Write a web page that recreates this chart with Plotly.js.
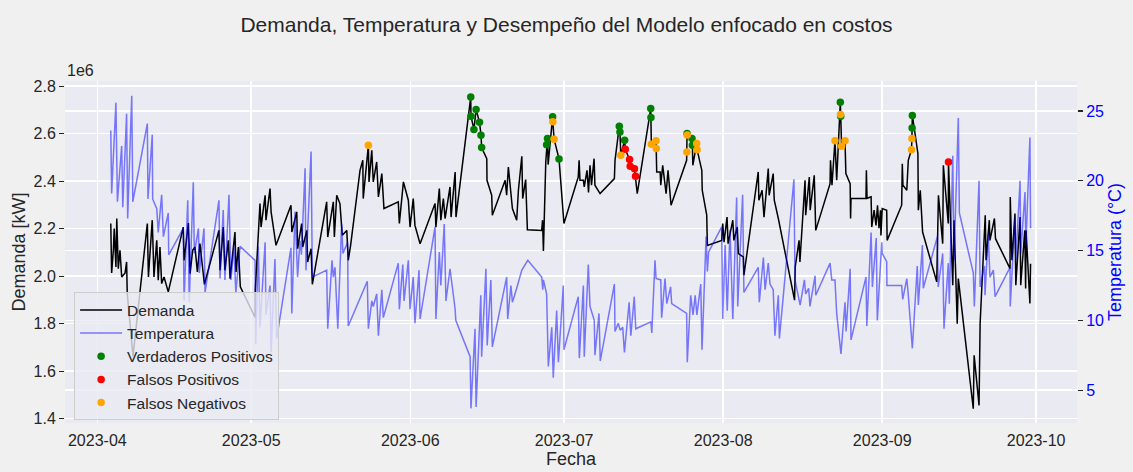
<!DOCTYPE html>
<html>
<head>
<meta charset="utf-8">
<script src="https://cdn.plot.ly/plotly-3.0.1.min.js"></script>
<style>html,body{margin:0;padding:0;background:#f0f0f0;}#chart{width:1133px;height:472px;}</style>
</head>
<body>
<div id="chart"></div>
<script>
// ---- Demanda (kW, en unidades de 1e6) ----
const demandaFecha = [
"2023-04-03 15:00","2023-04-03 19:00","2023-04-04 03:00","2023-04-04 07:00","2023-04-04 15:00","2023-04-04 19:00",
"2023-04-05 02:00","2023-04-05 10:00","2023-04-05 18:00","2023-04-06 10:00","2023-04-06 17:00","2023-04-06 20:00",
"2023-04-07 23:00","2023-04-09 08:00","2023-04-10 07:00","2023-04-10 18:00","2023-04-10 23:00","2023-04-11 17:00",
"2023-04-12 01:00","2023-04-12 14:00","2023-04-12 21:00","2023-04-13 05:00","2023-04-13 13:00","2023-04-14 00:00",
"2023-04-14 20:00","2023-04-17 18:00","2023-04-17 22:00","2023-04-18 18:00","2023-04-19 02:00","2023-04-19 14:00",
"2023-04-20 01:00","2023-04-20 12:00","2023-04-21 00:00","2023-04-21 21:00","2023-04-24 17:00","2023-04-24 22:00",
"2023-04-25 13:00","2023-04-25 21:00","2023-04-26 13:00","2023-04-26 21:00","2023-04-27 20:00","2023-04-28 01:00",
"2023-04-28 12:00","2023-04-28 21:00","2023-05-01 18:00","2023-05-01 19:00","2023-05-02 17:00","2023-05-02 22:00",
"2023-05-03 17:00","2023-05-03 21:00","2023-05-04 16:00","2023-05-04 21:00","2023-05-05 20:00","2023-05-08 18:00",
"2023-05-08 22:00","2023-05-09 21:00","2023-05-10 01:00","2023-05-10 20:00","2023-05-11 01:00","2023-05-11 20:00",
"2023-05-12 00:00","2023-05-12 16:00","2023-05-12 22:00","2023-05-15 17:00","2023-05-15 22:00","2023-05-17 00:00",
"2023-05-17 05:00","2023-05-17 16:00","2023-05-18 07:00","2023-05-18 18:00","2023-05-19 15:00","2023-05-19 22:00",
"2023-05-20 09:00","2023-05-22 05:00","2023-05-22 18:00","2023-05-22 20:00","2023-05-23 20:00","2023-05-23 23:00",
"2023-05-24 12:00","2023-05-24 19:00","2023-05-25 11:00","2023-05-25 19:00","2023-05-26 11:00","2023-05-26 21:00",
"2023-05-29 16:00","2023-05-29 21:00","2023-05-30 16:00","2023-05-31 15:00","2023-05-31 23:00","2023-06-01 14:00",
"2023-06-01 22:00","2023-06-02 22:00","2023-06-05 20:00","2023-06-06 00:00","2023-06-06 16:00","2023-06-06 23:00",
"2023-06-07 11:00","2023-06-07 19:00","2023-06-08 18:00","2023-06-08 23:00","2023-06-09 18:00","2023-06-09 22:00",
"2023-06-12 19:00","2023-06-12 20:00","2023-06-13 10:00","2023-06-13 20:00","2023-06-14 12:00","2023-06-14 19:00",
"2023-06-14 22:00","2023-06-15 22:00","2023-06-15 23:00","2023-06-16 21:00","2023-06-17 00:00","2023-06-19 12:00",
"2023-06-19 19:00","2023-06-20 03:00","2023-06-20 22:00","2023-06-21 18:00","2023-06-22 02:00","2023-06-22 18:00",
"2023-06-22 22:00","2023-06-23 12:00","2023-06-23 20:00","2023-06-26 15:00","2023-06-26 19:00","2023-06-26 23:00",
"2023-06-27 10:00","2023-06-27 14:00","2023-06-27 18:00","2023-06-27 21:00","2023-06-28 18:00","2023-06-28 19:00",
"2023-06-29 01:00","2023-06-30 00:00","2023-06-30 23:00","2023-07-03 18:00","2023-07-03 22:00","2023-07-04 02:00",
"2023-07-04 18:00","2023-07-04 22:00","2023-07-05 11:00","2023-07-05 18:00","2023-07-06 01:00","2023-07-06 08:00",
"2023-07-06 20:00","2023-07-07 00:00","2023-07-08 00:00","2023-07-10 19:00","2023-07-10 22:00","2023-07-11 18:00",
"2023-07-11 21:00","2023-07-12 01:00","2023-07-12 19:00","2023-07-12 22:00","2023-07-13 18:00","2023-07-13 21:00",
"2023-07-14 17:00","2023-07-14 22:00","2023-07-15 06:00","2023-07-17 21:00","2023-07-17 22:00","2023-07-18 00:00",
"2023-07-18 22:00","2023-07-18 23:00","2023-07-19 01:00","2023-07-19 17:00","2023-07-19 20:00","2023-07-20 05:00",
"2023-07-20 21:00","2023-07-21 06:00","2023-07-21 20:00","2023-07-24 21:00","2023-07-24 22:00","2023-07-24 23:00",
"2023-07-25 00:00","2023-07-25 22:00","2023-07-26 00:00","2023-07-26 02:00","2023-07-26 20:00","2023-07-26 22:00",
"2023-07-27 20:00","2023-07-27 22:00","2023-07-28 19:00","2023-07-28 22:00","2023-07-31 17:00","2023-07-31 22:00",
"2023-08-01 04:00","2023-08-01 18:00","2023-08-01 23:00","2023-08-02 21:00","2023-08-03 02:00","2023-08-03 18:00",
"2023-08-03 23:00","2023-08-04 22:00","2023-08-05 01:00","2023-08-07 20:00","2023-08-07 23:00","2023-08-08 14:00",
"2023-08-08 23:00","2023-08-09 19:00","2023-08-09 23:00","2023-08-10 18:00","2023-08-10 23:00","2023-08-11 18:00",
"2023-08-14 22:00","2023-08-15 01:00","2023-08-15 19:00","2023-08-15 23:00","2023-08-16 15:00","2023-08-16 23:00",
"2023-08-17 02:00","2023-08-17 19:00","2023-08-17 23:00","2023-08-18 18:00","2023-08-19 01:00","2023-08-21 20:00",
"2023-08-21 22:00","2023-08-22 05:00","2023-08-22 19:00","2023-08-23 03:00","2023-08-23 20:00","2023-08-23 21:00",
"2023-08-23 22:00","2023-08-24 02:00","2023-08-24 18:00","2023-08-24 22:00","2023-08-25 18:00","2023-08-25 20:00",
"2023-08-25 22:00","2023-08-28 20:00","2023-08-28 22:00","2023-08-29 01:00","2023-08-29 20:00","2023-08-29 23:00",
"2023-08-30 10:00","2023-08-30 19:00","2023-08-31 02:00","2023-08-31 09:00","2023-08-31 16:00","2023-08-31 18:00",
"2023-09-01 00:00","2023-09-01 21:00","2023-09-01 23:00","2023-09-04 19:00","2023-09-04 22:00","2023-09-05 01:00",
"2023-09-05 19:00","2023-09-06 02:00","2023-09-06 17:00","2023-09-06 19:00","2023-09-06 20:00","2023-09-06 21:00",
"2023-09-07 23:00","2023-09-08 01:00","2023-09-08 10:00","2023-09-08 21:00","2023-09-11 15:00","2023-09-11 23:00",
"2023-09-12 19:00","2023-09-12 22:00","2023-09-13 21:00","2023-09-13 22:00","2023-09-14 18:00","2023-09-15 00:00",
"2023-09-15 15:00","2023-09-15 20:00","2023-09-18 18:00","2023-09-18 22:00","2023-09-19 21:00","2023-09-20 02:00",
"2023-09-21 02:00","2023-09-21 06:00","2023-09-21 21:00","2023-09-22 00:00","2023-09-22 21:00","2023-09-23 02:00",
"2023-09-25 22:00","2023-09-25 23:00","2023-09-26 07:00","2023-09-26 21:00","2023-09-27 01:00","2023-09-27 21:00",
"2023-09-28 00:00","2023-09-28 19:00","2023-09-28 23:00","2023-09-29 01:00","2023-09-29 19:00","2023-09-29 22:00"
];
const demandaValor = [
2.222,2.014,2.109,2.201,2.039,2.243,
2.032,2.109,1.997,2.014,2.060,1.927,
1.663,1.927,2.116,2.222,1.997,2.236,
1.997,2.151,1.983,2.123,1.969,1.997,
1.934,2.207,2.067,2.224,2.011,2.109,
2.123,2.018,2.137,1.966,2.193,2.025,
2.207,2.025,2.151,1.990,2.186,2.018,
2.123,1.955,1.827,1.941,2.306,2.207,
2.341,2.236,2.369,2.271,2.130,2.299,
2.186,2.271,2.116,2.222,2.123,2.193,
2.060,2.116,1.966,2.313,2.165,2.313,
2.165,2.341,2.306,2.172,2.193,2.067,
2.130,2.446,2.488,2.327,2.551,2.397,
2.530,2.397,2.481,2.334,2.432,2.285,
2.313,2.222,2.397,2.320,2.207,2.327,
2.214,2.137,2.306,2.207,2.369,2.236,
2.327,2.243,2.376,2.249,2.439,2.249,
2.755,2.674,2.618,2.702,2.648,2.594,
2.542,2.495,2.404,2.341,2.257,2.404,
2.341,2.460,2.285,2.236,2.362,2.505,
2.327,2.407,2.196,2.193,2.236,2.106,
2.481,2.554,2.580,2.470,2.671,2.650,
2.577,2.494,2.222,2.418,2.488,2.404,
2.404,2.376,2.446,2.353,2.467,2.383,
2.495,2.383,2.348,2.411,2.488,2.632,
2.607,2.509,2.573,2.535,2.491,2.463,
2.453,2.421,2.348,2.706,2.668,2.556,
2.570,2.538,2.439,2.439,2.383,2.467,
2.348,2.446,2.299,2.488,2.523,2.601,
2.595,2.580,2.551,2.467,2.559,2.533,
2.446,2.362,2.257,2.130,2.151,2.222,
2.143,2.249,2.137,2.236,2.151,2.207,
2.095,2.081,2.004,2.439,2.320,2.362,
2.249,2.453,2.341,2.432,2.320,2.243,
1.899,2.039,2.151,2.060,2.278,2.404,
2.257,2.418,2.278,2.425,2.193,2.390,
2.488,2.383,2.570,2.404,2.733,2.681,
2.674,2.547,2.570,2.432,2.390,2.243,
2.327,2.327,2.446,2.328,2.334,2.207,
2.278,2.214,2.299,2.202,2.278,2.172,
2.285,2.278,2.151,2.299,2.474,2.383,
2.362,2.488,2.533,2.580,2.624,2.677,
2.517,2.278,2.362,2.186,1.976,2.341,
2.137,2.467,2.222,2.481,1.962,2.236,
1.800,1.990,1.442,1.667,1.456,1.800,
2.257,2.067,2.236,2.151,2.243,2.158,
2.032,2.334,2.067,2.264,1.962,2.249,
1.962,2.193,1.948,2.193,1.885,2.053
];

// ---- Temperatura (°C) ----
const tempFecha = [
"2023-04-03 15:00","2023-04-03 19:00","2023-04-04 15:00","2023-04-04 22:00","2023-04-05 18:00","2023-04-05 23:00",
"2023-04-06 17:00","2023-04-06 22:00","2023-04-07 17:00","2023-04-07 22:00","2023-04-10 18:00","2023-04-10 21:00",
"2023-04-11 17:00","2023-04-11 19:00","2023-04-12 14:00","2023-04-12 21:00","2023-04-13 13:00","2023-04-13 21:00",
"2023-04-14 20:00","2023-04-14 22:00","2023-04-17 18:00","2023-04-17 22:00","2023-04-18 15:00","2023-04-18 22:00",
"2023-04-19 17:00","2023-04-19 22:00","2023-04-20 17:00","2023-04-20 21:00","2023-04-21 19:00","2023-04-22 00:00",
"2023-04-24 17:00","2023-04-24 22:00","2023-04-25 13:00","2023-04-25 21:00","2023-04-26 16:00","2023-04-27 01:00",
"2023-04-27 15:00","2023-04-28 00:00","2023-04-28 20:00","2023-05-01 18:00","2023-05-01 21:00","2023-05-02 09:00",
"2023-05-02 17:00","2023-05-03 17:00","2023-05-03 21:00","2023-05-04 16:00","2023-05-04 21:00","2023-05-05 15:00",
"2023-05-05 23:00","2023-05-08 18:00","2023-05-08 22:00","2023-05-09 13:00","2023-05-10 01:00","2023-05-10 12:00",
"2023-05-10 19:00","2023-05-11 12:00","2023-05-11 16:00","2023-05-12 16:00","2023-05-12 22:00","2023-05-15 17:00",
"2023-05-15 22:00","2023-05-16 18:00","2023-05-17 00:00","2023-05-17 08:00","2023-05-17 21:00","2023-05-18 15:00",
"2023-05-18 21:00","2023-05-19 19:00","2023-05-19 22:00","2023-05-23 15:00","2023-05-23 20:00","2023-05-24 12:00",
"2023-05-24 19:00","2023-05-25 11:00","2023-05-25 19:00","2023-05-26 11:00","2023-05-26 18:00","2023-05-29 16:00",
"2023-05-29 21:00","2023-05-30 13:00","2023-05-30 19:00","2023-05-31 15:00","2023-05-31 23:00","2023-06-01 14:00",
"2023-06-01 22:00","2023-06-02 17:00","2023-06-02 22:00","2023-06-05 20:00","2023-06-06 00:00","2023-06-06 16:00",
"2023-06-06 23:00","2023-06-07 15:00","2023-06-07 23:00","2023-06-08 18:00","2023-06-09 18:00","2023-06-09 21:00",
"2023-06-12 16:00","2023-06-12 20:00","2023-06-13 15:00","2023-06-13 20:00","2023-06-14 18:00","2023-06-14 22:00",
"2023-06-15 18:00","2023-06-16 00:00","2023-06-16 17:00","2023-06-17 00:00","2023-06-19 19:00","2023-06-20 00:00",
"2023-06-20 15:00","2023-06-20 22:00","2023-06-21 18:00","2023-06-22 18:00","2023-06-23 22:00","2023-06-26 15:00",
"2023-06-26 20:00","2023-06-26 23:00","2023-06-27 14:00","2023-06-27 22:00","2023-06-28 14:00","2023-06-28 21:00",
"2023-06-29 13:00","2023-06-29 21:00","2023-06-30 20:00","2023-06-30 23:00","2023-07-03 18:00","2023-07-03 23:00",
"2023-07-04 18:00","2023-07-04 22:00","2023-07-05 17:00","2023-07-06 01:00","2023-07-06 21:00","2023-07-07 00:00",
"2023-07-07 19:00","2023-07-08 01:00","2023-07-10 19:00","2023-07-10 22:00","2023-07-11 13:00","2023-07-11 22:00",
"2023-07-12 10:00","2023-07-12 18:00","2023-07-13 16:00","2023-07-14 00:00","2023-07-14 16:00","2023-07-14 23:00",
"2023-07-17 22:00","2023-07-18 02:00","2023-07-18 17:00","2023-07-18 22:00","2023-07-19 20:00","2023-07-20 00:00",
"2023-07-20 16:00","2023-07-21 00:00","2023-07-21 18:00","2023-07-21 23:00","2023-07-24 21:00","2023-07-25 00:00",
"2023-07-25 16:00","2023-07-26 03:00","2023-07-26 13:00","2023-07-26 21:00","2023-07-27 15:00","2023-07-27 21:00",
"2023-07-28 16:00","2023-07-28 22:00","2023-07-29 04:00","2023-07-31 17:00","2023-07-31 22:00","2023-08-01 09:00",
"2023-08-01 19:00","2023-08-02 08:00","2023-08-02 21:00","2023-08-03 15:00","2023-08-03 20:00","2023-08-04 19:00",
"2023-08-05 01:00","2023-08-07 20:00","2023-08-08 01:00","2023-08-08 20:00","2023-08-09 04:00","2023-08-09 19:00",
"2023-08-10 03:00","2023-08-10 18:00","2023-08-11 02:00","2023-08-11 18:00","2023-08-11 23:00","2023-08-14 19:00",
"2023-08-15 00:00","2023-08-16 00:00","2023-08-16 20:00","2023-08-17 02:00","2023-08-17 16:00","2023-08-17 22:00",
"2023-08-18 22:00","2023-08-19 01:00","2023-08-21 20:00","2023-08-22 04:00","2023-08-22 19:00","2023-08-23 03:00",
"2023-08-23 23:00","2023-08-24 18:00","2023-08-24 23:00","2023-08-25 18:00","2023-08-25 22:00","2023-08-28 20:00",
"2023-08-29 00:00","2023-08-29 20:00","2023-08-30 02:00","2023-08-30 20:00","2023-08-31 01:00","2023-08-31 22:00",
"2023-09-01 00:00","2023-09-01 21:00","2023-09-01 22:00","2023-09-04 19:00","2023-09-05 00:00","2023-09-05 19:00",
"2023-09-06 01:00","2023-09-06 21:00","2023-09-07 20:00","2023-09-08 01:00","2023-09-08 20:00","2023-09-09 00:00",
"2023-09-11 18:00","2023-09-11 22:00","2023-09-12 19:00","2023-09-13 01:00","2023-09-13 21:00","2023-09-14 02:00",
"2023-09-14 18:00","2023-09-15 00:00","2023-09-15 20:00","2023-09-16 01:00","2023-09-18 18:00","2023-09-18 23:00",
"2023-09-19 21:00","2023-09-20 02:00","2023-09-20 22:00","2023-09-21 01:00","2023-09-21 16:00","2023-09-22 00:00",
"2023-09-22 16:00","2023-09-23 00:00","2023-09-25 22:00","2023-09-25 23:00","2023-09-26 21:00","2023-09-27 01:00",
"2023-09-27 21:00","2023-09-28 00:00","2023-09-28 20:00","2023-09-29 00:00","2023-09-29 19:00","2023-09-29 22:00"
];
const tempValor = [
23.6,19.1,25.6,18.5,22.5,18.1,
24.8,17.3,26.1,18.5,24.1,18.7,
23.3,18.7,18.0,16.3,19.0,16.0,
17.7,14.7,16.6,11.4,18.6,11.3,
19.9,14.8,16.6,13.4,16.6,12.0,
18.6,13.0,17.9,12.9,19.0,12.9,
15.3,12.0,15.3,14.3,8.3,15.3,
9.5,15.6,10.4,12.5,7.7,14.4,
8.7,15.2,10.5,17.8,13.1,15.7,
14.7,20.9,13.6,22.1,13.1,13.6,
9.4,14.3,13.1,13.8,9.4,16.9,
14.8,15.6,9.6,12.8,9.4,11.4,
11.0,11.9,8.9,12.2,10.2,14.1,
10.8,14.0,11.4,14.3,10.8,13.1,
9.8,13.6,10.1,16.7,10.1,14.9,
12.5,16.9,11.4,13.7,10.8,10.0,
7.4,3.7,9.4,3.8,11.8,7.4,
13.7,8.2,12.9,8.1,13.1,10.1,
12.5,11.3,12.3,13.6,14.3,13.1,
12.2,12.9,11.9,6.7,9.5,5.9,
10.7,7.0,12.5,7.9,11.7,7.3,
12.5,7.4,14.0,11.0,10.0,7.5,
10.5,7.1,12.6,9.2,9.8,9.3,
9.5,7.7,11.3,8.9,11.7,9.4,
9.9,9.1,14.3,13.0,12.9,10.2,
13.0,11.2,12.4,11.2,10.5,7.0,
11.8,10.4,11.8,10.4,12.6,7.9,
16.0,13.5,14.9,16.7,10.1,15.4,
10.7,16.5,10.1,18.8,11.0,19.0,
12.0,13.8,11.3,14.5,12.2,14.1,
12.6,12.2,8.9,11.8,8.7,20.1,
12.9,11.1,12.9,11.9,12.3,11.0,
13.2,11.8,14.1,12.9,12.9,10.5,
7.6,11.3,9.2,13.7,8.6,13.1,
9.6,16.3,12.4,15.9,10.0,15.6,
14.8,14.2,12.5,12.5,11.5,13.0,
12.0,8.0,13.9,11.1,15.4,12.3,
16.0,12.4,14.8,9.4,14.1,11.2,
21.8,14.3,24.5,17.7,13.4,11.0,
20.0,12.4,13.9,11.8,16.2,13.1,
13.6,11.7,13.8,11.0,17.4,14.3,
20.0,14.8,19.2,15.3,23.1,16.6
];

// ---- Desempeño del modelo (picos) ----
const vpFecha = ["2023-06-12 19:00","2023-06-12 20:00","2023-06-13 10:00","2023-06-13 20:00","2023-06-14 12:00","2023-06-14 19:00","2023-06-14 22:00",
  "2023-06-27 14:00","2023-06-27 18:00","2023-06-28 18:00","2023-06-30 00:00","2023-07-11 18:00","2023-07-11 21:00","2023-07-12 19:00",
  "2023-07-17 21:00","2023-07-17 22:00","2023-07-24 23:00","2023-07-25 22:00","2023-07-26 00:00","2023-08-23 20:00","2023-08-23 22:00",
  "2023-09-06 20:00","2023-09-06 21:00"];
const vpValor = [2.755,2.674,2.618,2.702,2.648,2.594,2.542,
  2.554,2.580,2.671,2.494,2.632,2.607,2.573,
  2.706,2.668,2.601,2.580,2.551,2.733,2.674,
  2.624,2.677];
const fpFecha = ["2023-07-12 22:00","2023-07-13 18:00","2023-07-13 21:00","2023-07-14 17:00","2023-07-14 22:00","2023-09-13 22:00"];
const fpValor = [2.535,2.491,2.463,2.453,2.421,2.481];
const fnFecha = ["2023-05-23 20:00","2023-06-28 19:00","2023-06-29 01:00","2023-07-12 01:00","2023-07-18 00:00","2023-07-18 22:00",
  "2023-07-18 23:00","2023-07-24 22:00","2023-07-25 00:00","2023-07-26 20:00","2023-07-26 22:00","2023-08-22 19:00",
  "2023-08-23 21:00","2023-08-24 02:00","2023-08-24 18:00","2023-09-06 17:00","2023-09-06 19:00"];
const fnValor = [2.551,2.650,2.577,2.509,2.556,2.570,
  2.538,2.523,2.595,2.559,2.533,2.570,
  2.681,2.547,2.570,2.533,2.580];

// ---- Ejes ----
const ticksDemanda = [1.4,1.6,1.8,2.0,2.2,2.4,2.6,2.8];
const ticksTemp = [5,10,15,20,25];
const ticksFecha = ["2023-04-01","2023-05-01","2023-06-01","2023-07-01","2023-08-01","2023-09-01","2023-10-01"];
const etiquetasFecha = ["2023-04","2023-05","2023-06","2023-07","2023-08","2023-09","2023-10"];

const FONT = "Liberation Sans, Arial, sans-serif";
const TXT = "#262626";

const traces = [
  {x: demandaFecha, y: demandaValor, type: "scatter", mode: "lines", name: "Demanda",
   line: {color: "black", width: 1.5}, yaxis: "y"},
  {x: tempFecha, y: tempValor, type: "scatter", mode: "lines", name: "Temperatura",
   line: {color: "rgba(0,0,255,0.5)", width: 1.5}, yaxis: "y2"},
  {x: vpFecha, y: vpValor, type: "scatter", mode: "markers", name: "Verdaderos Positivos",
   marker: {color: "green", size: 7.5}, yaxis: "y"},
  {x: fpFecha, y: fpValor, type: "scatter", mode: "markers", name: "Falsos Positivos",
   marker: {color: "red", size: 7.5}, yaxis: "y"},
  {x: fnFecha, y: fnValor, type: "scatter", mode: "markers", name: "Falsos Negativos",
   marker: {color: "orange", size: 7.5}, yaxis: "y"}
];

const layout = {
  width: 1133, height: 472,
  paper_bgcolor: "#f0f0f0",
  plot_bgcolor: "#eaeaf2",
  font: {family: FONT, color: TXT, size: 16},
  margin: {l: 65, r: 56, t: 81, b: 49, pad: 0},
  title: {text: "Demanda, Temperatura y Desempeño del Modelo enfocado en costos",
          font: {family: FONT, size: 21, color: TXT}, x: 0.5, xanchor: "center",
          y: 0.947, yanchor: "middle", yref: "container"},
  xaxis: {
    type: "date",
    range: ["2023-03-25 16:48", "2023-10-08 23:17"],
    tickvals: ticksFecha, ticktext: etiquetasFecha,
    showgrid: true, gridcolor: "white", gridwidth: 1.5,
    zeroline: false, showline: false,
    ticks: "outside", ticklen: 3, tickcolor: "rgba(0,0,0,0)",
    tickfont: {size: 16, color: TXT},
    title: {text: "Fecha", font: {size: 18, color: TXT}, standoff: 3}
  },
  yaxis: {
    range: [1.382, 2.822],
    tickvals: ticksDemanda, tickformat: ".1f",
    showgrid: true, gridcolor: "white", gridwidth: 1.5,
    zeroline: false, showline: false,
    ticks: "outside", ticklen: 5, tickwidth: 1.2, tickcolor: TXT,
    tickfont: {size: 16, color: TXT},
    title: {text: "Demanda [kW]", font: {size: 18, color: TXT}, standoff: 3}
  },
  yaxis2: {
    overlaying: "y", side: "right",
    range: [2.65, 27.15],
    tickvals: ticksTemp,
    showgrid: true, gridcolor: "white", gridwidth: 1.5,
    zeroline: false, showline: false,
    ticks: "outside", ticklen: 5, tickwidth: 1.2, tickcolor: TXT,
    tickfont: {size: 16, color: "blue"},
    title: {text: "Temperatura (°C)", font: {size: 18, color: "blue"}, standoff: 5}
  },
  legend: {
    x: 0.009, y: 0.382, xanchor: "left", yanchor: "top",
    bgcolor: "rgba(234,234,242,0.8)", bordercolor: "#cccccc", borderwidth: 1,
    font: {size: 15.5, color: TXT}, itemwidth: 42, tracegroupgap: 0
  },
  annotations: [
    {text: "1e6", xref: "paper", yref: "paper", x: 0, y: 1.0, xanchor: "left", yanchor: "bottom",
     yshift: 0, showarrow: false, font: {size: 16, color: TXT}}
  ],
  showlegend: true
};

Plotly.newPlot("chart", traces, layout, {displayModeBar: false, staticPlot: true});
</script>
</body>
</html>
